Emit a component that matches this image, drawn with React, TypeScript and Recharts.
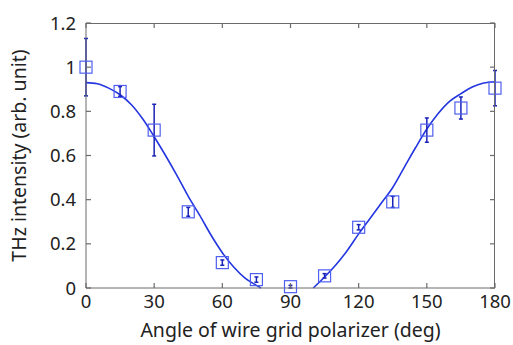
import React from 'react';
import { ComposedChart, Line, Scatter, ErrorBar, XAxis, YAxis } from 'recharts';

// measured points (angle in deg, intensity, error)
const angles = [0, 15, 30, 45, 60, 75, 90, 105, 120, 135, 150, 165, 180];
const intensity = [1.0, 0.89, 0.715, 0.345, 0.115, 0.038, 0.006, 0.055, 0.275, 0.39, 0.715, 0.815, 0.905];
const errors = [0.13, 0.022, 0.117, 0.02, 0.012, 0.012, 0.006, 0.01, 0.012, 0.025, 0.055, 0.05, 0.08];

// fitted curve (it vanishes between ~77 and ~100 deg)
const fitLeftAngles = [0, 5, 10, 15, 20, 25, 30, 35, 40, 45, 50, 55, 60, 65, 70, 75, 77];
const fitLeftValues = [0.93, 0.925, 0.905, 0.875, 0.83, 0.765, 0.685, 0.6, 0.51, 0.415, 0.33, 0.24, 0.16, 0.095, 0.045, 0.012, 0];
const fitRightAngles = [100, 105, 110, 115, 120, 125, 130, 135, 140, 145, 150, 155, 160, 165, 170, 175, 180];
const fitRightValues = [0, 0.05, 0.105, 0.17, 0.245, 0.315, 0.385, 0.455, 0.545, 0.635, 0.72, 0.79, 0.845, 0.88, 0.91, 0.928, 0.934];

const xTicks = [0, 30, 60, 90, 120, 150, 180];
const yTicks = [0, 0.2, 0.4, 0.6, 0.8, 1, 1.2];

const points = angles.map((a, i) => ({ angle: a, value: intensity[i], err: errors[i] }));
const fitLeft = fitLeftAngles.map((a, i) => ({ angle: a, value: fitLeftValues[i] }));
const fitRight = fitRightAngles.map((a, i) => ({ angle: a, value: fitRightValues[i] }));

const W = 513;
const H = 345;
const M_TOP = 23;
const M_RIGHT = 18;
const Y_AXIS_W = 86;
const X_AXIS_H = 57;
const PLOT_W = W - M_RIGHT - Y_AXIS_W;
const PLOT_H = H - M_TOP - X_AXIS_H;

const FONT = '"Noto Sans", sans-serif';
const TEXT = '#222';
const FRAME = '#6b6b6b';

// bottom tick: inward tick, label, plus the mirrored tick on the top edge
const BottomTick = (props: any) => {
  const { x, y, payload } = props;
  const top = y - PLOT_H;
  return (
    <g>
      <line x1={x} x2={x} y1={y} y2={y - 5} stroke={FRAME} strokeWidth={1.2} />
      <line x1={x} x2={x} y1={top} y2={top + 5} stroke={FRAME} strokeWidth={1.2} />
      <text x={x} y={y + 20} textAnchor="middle" fill={TEXT} fontSize={18.5} fontFamily={FONT}>
        {payload.value}
      </text>
    </g>
  );
};

// left tick: inward tick, label, plus the mirrored tick on the right edge
const LeftTick = (props: any) => {
  const { x, y, payload } = props;
  const right = x + PLOT_W;
  return (
    <g>
      <line x1={x} x2={x + 5} y1={y} y2={y} stroke={FRAME} strokeWidth={1.2} />
      <line x1={right} x2={right - 5} y1={y} y2={y} stroke={FRAME} strokeWidth={1.2} />
      <text x={x - 10} y={y + 6.5} textAnchor="end" fill={TEXT} fontSize={18.5} fontFamily={FONT}>
        {String(payload.value)}
      </text>
    </g>
  );
};

const SquareMarker = (props: any) => {
  const { cx, cy } = props;
  return <rect x={cx - 6} y={cy - 6} width={12} height={12} fill="none" stroke="#4f5ff0" strokeWidth={1.2} />;
};

export default function App() {
  return (
    <div style={{ position: 'relative', width: W, height: H, background: '#fff' }}>
      <style>{'body{margin:0}'}</style>
      <ComposedChart width={W} height={H} margin={{ top: M_TOP, right: M_RIGHT, left: 0, bottom: 0 }}>
        <XAxis
          dataKey="angle"
          type="number"
          domain={[0, 180]}
          ticks={xTicks}
          height={X_AXIS_H}
          stroke={FRAME}
          tickSize={0}
          tickMargin={0}
          tick={<BottomTick />}
          label={{ value: 'Angle of wire grid polarizer (deg)', position: 'insideBottom', offset: 8, fill: TEXT, fontSize: 19.5, fontFamily: FONT }}
        />
        <YAxis
          dataKey="value"
          type="number"
          domain={[0, 1.2]}
          ticks={yTicks}
          width={Y_AXIS_W}
          stroke={FRAME}
          tickSize={0}
          tickMargin={0}
          tick={<LeftTick />}
          label={{ value: 'THz intensity (arb. unit)', angle: -90, position: 'insideLeft', offset: 19, fill: TEXT, fontSize: 19.5, fontFamily: FONT, style: { textAnchor: 'middle' } }}
        />
        <Line data={fitLeft} dataKey="value" type="monotone" stroke="#2436e0" strokeWidth={1.6} dot={false} isAnimationActive={false} />
        <Line data={fitRight} dataKey="value" type="monotone" stroke="#2436e0" strokeWidth={1.6} dot={false} isAnimationActive={false} />
        <Scatter data={points} dataKey="value" shape={<SquareMarker />} isAnimationActive={false}>
          <ErrorBar dataKey="err" direction="y" width={2} stroke="#1a22b8" strokeWidth={1.5} />
        </Scatter>
      </ComposedChart>
      {/* plot frame */}
      <div
        style={{
          position: 'absolute',
          left: Y_AXIS_W,
          top: M_TOP,
          width: PLOT_W,
          height: PLOT_H,
          borderTop: `1px solid ${FRAME}`,
          borderRight: `1px solid ${FRAME}`,
          boxSizing: 'border-box',
          pointerEvents: 'none',
        }}
      />
    </div>
  );
}
